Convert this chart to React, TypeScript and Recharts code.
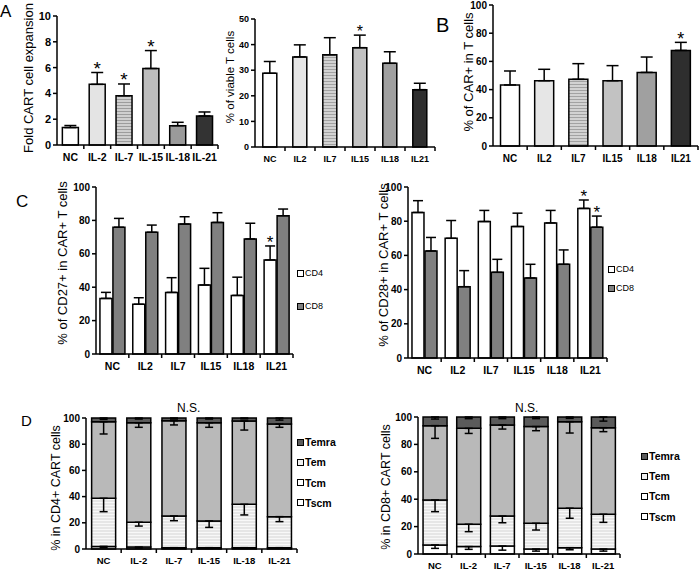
import React from 'react';
import { BarChart, Bar, XAxis, YAxis, ErrorBar, Cell, LabelList } from 'recharts';

const FONT = '"Liberation Sans", Arial, sans-serif';

// ---------- categories ----------
const CATS_DASH = ['NC', 'IL-2', 'IL-7', 'IL-15', 'IL-18', 'IL-21'];
const CATS_PLAIN = ['NC', 'IL2', 'IL7', 'IL15', 'IL18', 'IL21'];

// ---------- Panel A (left): fold CART cell expansion ----------
const FOLD_VAL = [1.35, 4.7, 3.82, 5.93, 1.5, 2.25];
const FOLD_ERR = [0.16, 0.92, 0.91, 1.39, 0.26, 0.31];
const FOLD_SIG = [false, true, true, true, false, false];
const FOLD_TICKS = [0, 2, 4, 6, 8, 10];

// ---------- Panel A (right): % viable T cells ----------
const VIA_VAL = [28.8, 35.2, 36.0, 38.8, 32.7, 22.4];
const VIA_ERR = [4.6, 4.7, 6.7, 4.9, 4.5, 2.5];
const VIA_SIG = [false, false, false, true, false, false];
const VIA_TICKS = [0, 10, 20, 30, 40, 50];

// ---------- Panel B: % CAR+ in T cells ----------
const CAR_VAL = [43.3, 46.3, 47.3, 46.3, 52.2, 67.8];
const CAR_ERR = [9.9, 8.1, 11.1, 10.7, 10.9, 5.7];
const CAR_SIG = [false, false, false, false, false, true];
const PCT_TICKS = [0, 20, 40, 60, 80, 100];

// ---------- Panel C: CD27 / CD28 ----------
const CD27_CD4 = [33.3, 29.8, 36.9, 41.3, 35.1, 56.3];
const CD27_CD4_ERR = [3.6, 3.9, 8.8, 10.0, 10.9, 8.4];
const CD27_CD4_SIG = [false, false, false, false, false, true];
const CD27_CD8 = [75.9, 72.9, 77.8, 78.8, 68.9, 82.8];
const CD27_CD8_ERR = [5.3, 4.3, 4.4, 5.8, 9.4, 4.0];
const CD27_CD8_SIG = [false, false, false, false, false, false];

const CD28_CD4 = [85.1, 70.0, 79.8, 76.9, 79.0, 87.5];
const CD28_CD4_ERR = [6.9, 10.4, 6.5, 7.8, 7.3, 4.9];
const CD28_CD4_SIG = [false, false, false, false, false, true];
const CD28_CD8 = [62.6, 41.7, 50.1, 46.8, 54.8, 76.5];
const CD28_CD8_ERR = [7.9, 9.4, 7.6, 8.0, 8.4, 6.5];
const CD28_CD8_SIG = [false, false, false, false, false, true];

// ---------- Panel D: memory subsets (segment values, %) ----------
const D4_TSCM = [2.0, 1.5, 1.0, 1.0, 1.0, 1.0];
const D4_TCM = [36.7, 18.9, 24.2, 20.4, 33.1, 23.7];
const D4_TEM = [58.5, 76.0, 72.7, 75.0, 63.6, 70.7];
const D4_TEMRA = [2.8, 3.6, 2.1, 3.6, 2.3, 4.6];
const D4_TSCM_ERR = [1.0, 0.8, 0.5, 0.5, 0.5, 0.5];
const D4_TCM_ERR = [10.2, 2.9, 3.6, 4.9, 8.1, 3.8];
const D4_TEM_ERR = [9.4, 3.5, 3.2, 3.5, 6.9, 2.5];
const D4_TEMRA_ERR = [1.0, 0.8, 0.8, 0.8, 0.6, 1.6];

const D8_TSCM = [6.6, 5.4, 5.8, 3.6, 4.6, 3.6];
const D8_TCM = [32.8, 16.3, 21.9, 18.8, 28.8, 25.4];
const D8_TEM = [54.3, 70.0, 66.5, 70.6, 63.2, 63.2];
const D8_TEMRA = [6.3, 8.3, 5.8, 7.0, 3.4, 7.8];
const D8_TSCM_ERR = [2.5, 2.0, 3.0, 1.5, 1.5, 1.5];
const D8_TCM_ERR = [8.5, 5.4, 4.9, 4.9, 7.3, 5.9];
const D8_TEM_ERR = [9.3, 3.7, 3.0, 3.0, 8.3, 2.9];
const D8_TEMRA_ERR = [1.5, 1.2, 1.2, 1.2, 1.0, 3.0];

const SUBSETS = ['Tscm', 'Tcm', 'Tem', 'Temra'];

// ---------- styles ----------
const FILLS_A1 = ['#ffffff', '#e4e4e4', 'url(#stripeA)', '#bdbdbd', '#9a9a9a', '#333333'];
const FILLS_A2 = ['#ffffff', '#e6e6e6', 'url(#stripeB)', '#c2c2c2', '#a0a0a0', '#2e2e2e'];
const SUB_FILLS = ['#ffffff', 'url(#stripeD)', '#b9b9b9', '#5b5b5b'];
const LEG_FILLS = ['#ffffff', '#ffffff', '#f0f0f0', '#5b5b5b'];

const XTick = (p: any) => {
  const { x, y, payload, fs } = p;
  const off = payload && payload.offset ? payload.offset : 0;
  return (
    <g>
      <text x={x} y={y + fs * 0.85} textAnchor="middle" fill="#000"
        style={{ fontFamily: FONT, fontWeight: 700, fontSize: fs }}>{payload.value}</text>
      <line x1={x + off} x2={x + off} y1={y - 7} y2={y - 3} stroke="#000" strokeWidth={1.5} />
    </g>
  );
};

const makeStar = (vals: number[], errs: number[], fs: number) => (p: any) => {
  const vb = p.viewBox || p;
  const x = p.x !== undefined ? p.x : vb.x;
  const y = p.y !== undefined ? p.y : vb.y;
  const w = p.width !== undefined ? p.width : vb.width;
  const h = p.height !== undefined ? p.height : vb.height;
  const i = p.index;
  if (!p.value) return null;
  const ppu = Math.abs(h) / vals[i];
  const capY = y - errs[i] * ppu;
  return (
    <text x={x + w / 2} y={capY + fs * 0.12} textAnchor="middle" fill="#000"
      style={{ fontFamily: FONT, fontSize: fs }}>*</text>
  );
};

type SingleProps = {
  L: number; T: number; W: number; H: number; top: number; yw: number;
  cats: string[]; vals: number[]; errs: number[]; sig: boolean[]; fills: string[];
  max: number; ticks: number[]; gap: string; xfs: number; yfs: number; sfs: number;
};

function SingleBarPanel(p: SingleProps) {
  const rows = p.cats.map((c, i) => ({ cat: c, v: p.vals[i], e: [0, p.errs[i]], s: p.sig[i] ? '*' : '' }));
  return (
    <div style={{ position: 'absolute', left: p.L, top: p.T }}>
      <BarChart width={p.W} height={p.H} data={rows} margin={{ top: p.top, right: 2, bottom: 0, left: 0 }}
        barCategoryGap={p.gap}>
        <XAxis dataKey="cat" height={25} interval={0} tickLine={false} tickSize={4} tickMargin={3}
          axisLine={{ stroke: '#000', strokeWidth: 1.5 }}
          tick={(tp: any) => <XTick {...tp} fs={p.xfs} />} />
        <YAxis width={p.yw} domain={[0, p.max]} ticks={p.ticks} interval={0} tickSize={4}
          axisLine={{ stroke: '#000', strokeWidth: 1.5 }} tickLine={{ stroke: '#000', strokeWidth: 1.5 }}
          tick={{ fill: '#000', fontSize: p.yfs, fontWeight: 700, fontFamily: FONT }} />
        <Bar dataKey="v" isAnimationActive={false} stroke="#000" strokeWidth={1.5}>
          {rows.map((r, i) => <Cell key={i} fill={p.fills[i]} />)}
          <ErrorBar dataKey="e" width={6} stroke="#000" strokeWidth={1.5} direction="y" />
          <LabelList dataKey="s" content={makeStar(p.vals, p.errs, p.sfs)} />
        </Bar>
      </BarChart>
    </div>
  );
}

type PairProps = {
  L: number; T: number; W: number; H: number; top: number; yw: number;
  a: number[]; ae: number[]; as: boolean[]; b: number[]; be: number[]; bs: boolean[];
};

function PairPanel(p: PairProps) {
  const rows = CATS_PLAIN.map((c, i) => ({
    cat: c, cd4: p.a[i], cd8: p.b[i], e4: [0, p.ae[i]], e8: [0, p.be[i]],
    s4: p.as[i] ? '*' : '', s8: p.bs[i] ? '*' : '',
  }));
  return (
    <div style={{ position: 'absolute', left: p.L, top: p.T }}>
      <BarChart width={p.W} height={p.H} data={rows} margin={{ top: p.top, right: 2, bottom: 0, left: 0 }}
        barCategoryGap="12%" barGap={1}>
        <XAxis dataKey="cat" height={25} interval={0} tickLine={false} tickSize={4} tickMargin={3}
          axisLine={{ stroke: '#000', strokeWidth: 1.5 }}
          tick={(tp: any) => <XTick {...tp} fs={10.5} />} />
        <YAxis width={p.yw} domain={[0, 100]} ticks={PCT_TICKS} interval={0} tickSize={4}
          axisLine={{ stroke: '#000', strokeWidth: 1.5 }} tickLine={{ stroke: '#000', strokeWidth: 1.5 }}
          tick={{ fill: '#000', fontSize: 10, fontWeight: 700, fontFamily: FONT }} />
        <Bar dataKey="cd4" name="CD4" isAnimationActive={false} fill="#ffffff" stroke="#000" strokeWidth={1.5}>
          <ErrorBar dataKey="e4" width={5} stroke="#000" strokeWidth={1.5} direction="y" />
          <LabelList dataKey="s4" content={makeStar(p.a, p.ae, 17)} />
        </Bar>
        <Bar dataKey="cd8" name="CD8" isAnimationActive={false} fill="#808080" stroke="#000" strokeWidth={1.5}>
          <ErrorBar dataKey="e8" width={5} stroke="#000" strokeWidth={1.5} direction="y" />
          <LabelList dataKey="s8" content={makeStar(p.b, p.be, 17)} />
        </Bar>
      </BarChart>
    </div>
  );
}

type StackProps = {
  L: number; T: number; W: number; H: number; top: number; yw: number; gap: string;
  segs: number[][]; errs: number[][];
};

function StackPanel(p: StackProps) {
  const rows = CATS_DASH.map((c, i) => {
    const r: any = { cat: c };
    SUBSETS.forEach((s, k) => { r[s] = p.segs[k][i]; r[s + '_e'] = [p.errs[k][i], 0]; });
    return r;
  });
  return (
    <div style={{ position: 'absolute', left: p.L, top: p.T }}>
      <BarChart width={p.W} height={p.H} data={rows} margin={{ top: p.top, right: 2, bottom: 0, left: 0 }}
        barCategoryGap={p.gap}>
        <XAxis dataKey="cat" height={25} interval={0} tickLine={false} tickSize={4} tickMargin={3}
          axisLine={{ stroke: '#000', strokeWidth: 1.5 }}
          tick={(tp: any) => <XTick {...tp} fs={9.5} />} />
        <YAxis width={p.yw} domain={[0, 100]} ticks={PCT_TICKS} interval={0} tickSize={4}
          axisLine={{ stroke: '#000', strokeWidth: 1.5 }} tickLine={{ stroke: '#000', strokeWidth: 1.5 }}
          tick={{ fill: '#000', fontSize: 10, fontWeight: 700, fontFamily: FONT }} />
        {SUBSETS.map((s, k) => (
          <Bar key={s} dataKey={s} name={s} stackId="a" isAnimationActive={false}
            fill={SUB_FILLS[k]} stroke="#000" strokeWidth={1.5}>
            <ErrorBar dataKey={s + '_e'} width={4} stroke="#000" strokeWidth={1.5} direction="y" />
          </Bar>
        ))}
      </BarChart>
    </div>
  );
}

const Txt = ({ x, y, fs, bold, children }: any) => (
  <div style={{ position: 'absolute', left: x, top: y, fontFamily: FONT, fontSize: fs,
    fontWeight: bold ? 700 : 400, lineHeight: 1, whiteSpace: 'nowrap', color: '#000' }}>{children}</div>
);

const VLabel = ({ cx, cy, fs, children }: any) => (
  <div style={{ position: 'absolute', left: cx, top: cy, transform: 'translate(-50%, -50%) rotate(-90deg)',
    fontFamily: FONT, fontSize: fs, lineHeight: 1, whiteSpace: 'nowrap', color: '#000' }}>{children}</div>
);

const LegItem = ({ x, y, fill, label, fs, bold, box }: any) => (
  <div style={{ position: 'absolute', left: x, top: y - 6, height: 12, display: 'flex', alignItems: 'center',
    fontFamily: FONT, fontSize: fs, fontWeight: bold ? 700 : 400, whiteSpace: 'nowrap', color: '#000' }}>
    <span style={{ display: 'inline-block', width: box, height: box, background: fill,
      border: '1.3px solid #000', boxSizing: 'border-box', marginRight: 1 }} />
    {label}
  </div>
);

export default function App() {
  return (
    <div style={{ position: 'absolute', left: 0, top: 0, width: 700, height: 575, background: '#fff', overflow: 'hidden' }}>
      <svg width={0} height={0} style={{ position: 'absolute' }}>
        <defs>
          <pattern id="stripeA" width="4" height="3" patternUnits="userSpaceOnUse">
            <rect width="4" height="3" fill="#cfcfcf" />
            <rect width="4" height="1" fill="#9c9c9c" />
          </pattern>
          <pattern id="stripeB" width="4" height="3" patternUnits="userSpaceOnUse">
            <rect width="4" height="3" fill="#d2d2d2" />
            <rect width="4" height="1" fill="#a2a2a2" />
          </pattern>
          <pattern id="stripeD" width="4" height="3" patternUnits="userSpaceOnUse">
            <rect width="4" height="3" fill="#e6e6e6" />
            <rect width="4" height="1" fill="#f8f8f8" />
          </pattern>
        </defs>
      </svg>

      {/* Panel A left */}
      <SingleBarPanel L={27} T={0} W={193} H={170} top={16} yw={30} cats={CATS_DASH}
        vals={FOLD_VAL} errs={FOLD_ERR} sig={FOLD_SIG} fills={FILLS_A1} max={10} ticks={FOLD_TICKS}
        gap="20%" xfs={10.5} yfs={11} sfs={19} />
      {/* Panel A right */}
      <SingleBarPanel L={225} T={0} W={212} H={172} top={19} yw={30} cats={CATS_PLAIN}
        vals={VIA_VAL} errs={VIA_ERR} sig={VIA_SIG} fills={FILLS_A2} max={50} ticks={VIA_TICKS}
        gap="26%" xfs={9} yfs={9} sfs={16} />
      {/* Panel B */}
      <SingleBarPanel L={463} T={0} W={237} H={171} top={5} yw={30} cats={CATS_PLAIN}
        vals={CAR_VAL} errs={CAR_ERR} sig={CAR_SIG} fills={FILLS_A2} max={100} ticks={PCT_TICKS}
        gap="22%" xfs={10} yfs={10} sfs={18} />

      {/* Panel C */}
      <PairPanel L={66} T={170} W={229} H={209} top={17} yw={30}
        a={CD27_CD4} ae={CD27_CD4_ERR} as={CD27_CD4_SIG} b={CD27_CD8} be={CD27_CD8_ERR} bs={CD27_CD8_SIG} />
      <PairPanel L={378} T={170} W={231} H={213} top={17} yw={30}
        a={CD28_CD4} ae={CD28_CD4_ERR} as={CD28_CD4_SIG} b={CD28_CD8} be={CD28_CD8_ERR} bs={CD28_CD8_SIG} />

      {/* Panel D */}
      <StackPanel L={56} T={400} W={243} H={174} top={18} yw={30} gap="16%"
        segs={[D4_TSCM, D4_TCM, D4_TEM, D4_TEMRA]} errs={[D4_TSCM_ERR, D4_TCM_ERR, D4_TEM_ERR, D4_TEMRA_ERR]} />
      <StackPanel L={388} T={400} W={234} H={179} top={17} yw={30} gap="15%"
        segs={[D8_TSCM, D8_TCM, D8_TEM, D8_TEMRA]} errs={[D8_TSCM_ERR, D8_TCM_ERR, D8_TEM_ERR, D8_TEMRA_ERR]} />

      {/* Panel letters */}
      <Txt x={0} y={3} fs={17}>A</Txt>
      <Txt x={436} y={15} fs={20}>B</Txt>
      <Txt x={16} y={193} fs={17}>C</Txt>
      <Txt x={21} y={413} fs={15}>D</Txt>

      {/* Axis titles */}
      <VLabel cx={28} cy={78} fs={13}>Fold CART cell expansion</VLabel>
      <VLabel cx={231} cy={77} fs={11.5}>% of viable T cells</VLabel>
      <VLabel cx={468} cy={72} fs={13}>% of CAR+ in T cells</VLabel>
      <VLabel cx={62} cy={263} fs={13}>% of CD27+ in CAR+ T cells</VLabel>
      <VLabel cx={383} cy={265} fs={13}>% of CD28+ in CAR+ T cells</VLabel>
      <VLabel cx={56} cy={488} fs={12.5}>% in CD4+ CART cells</VLabel>
      <VLabel cx={386} cy={487} fs={12.5}>% in CD8+ CART cells</VLabel>

      {/* N.S. */}
      <Txt x={177} y={402} fs={12}>N.S.</Txt>
      <Txt x={515} y={402} fs={12}>N.S.</Txt>

      {/* Legends C */}
      <LegItem x={297} y={273} fill="#ffffff" label="CD4" fs={9} box={7} />
      <LegItem x={297} y={306} fill="#808080" label="CD8" fs={9} box={7} />
      <LegItem x={608} y={269} fill="#ffffff" label="CD4" fs={9} box={7} />
      <LegItem x={608} y={288} fill="#808080" label="CD8" fs={9} box={7} />

      {/* Legends D */}
      {[3, 2, 1, 0].map((k, j) => (
        <LegItem key={'d4' + k} x={297} y={442 + j * 20.3} fill={LEG_FILLS[k]} label={SUBSETS[k]} fs={10.5} bold box={7} />
      ))}
      {[3, 2, 1, 0].map((k, j) => (
        <LegItem key={'d8' + k} x={641} y={456 + j * 20.2} fill={LEG_FILLS[k]} label={SUBSETS[k]} fs={10.5} bold box={7} />
      ))}
    </div>
  );
}
